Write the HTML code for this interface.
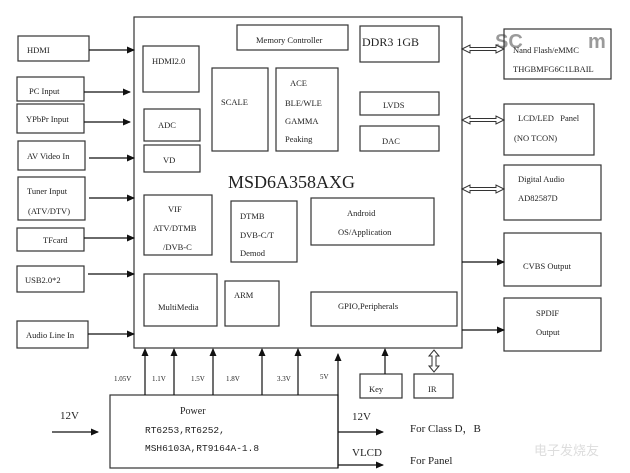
<!DOCTYPE html>
<html><head><meta charset="utf-8"><style>
html,body{margin:0;padding:0;background:#fff;}
svg{display:block;}
text{font-family:"Liberation Serif","Noto Serif CJK SC",serif;fill:#222;}
</style></head><body>
<svg width="630" height="473" viewBox="0 0 630 473" xmlns="http://www.w3.org/2000/svg">
<defs>
<marker id="a" markerWidth="8" markerHeight="8" refX="7" refY="4" orient="auto" markerUnits="userSpaceOnUse"><path d="M0,0.5 L8,4 L0,7.5 Z" fill="#111"/></marker>
</defs>
<text x="495" y="48" font-size="20" font-weight="bold" style="fill:#9a9a9a;font-family:'Liberation Sans',sans-serif">SC</text>
<text x="588" y="48" font-size="20" font-weight="bold" style="fill:#9a9a9a;font-family:'Liberation Sans',sans-serif">m</text>
<g fill="none" stroke="#333" stroke-width="1.2">
<rect x="134" y="17" width="328" height="331"/>
<rect x="18" y="36" width="71" height="25"/>
<rect x="17" y="77" width="67" height="24"/>
<rect x="17" y="104" width="67" height="29"/>
<rect x="18" y="141" width="67" height="29"/>
<rect x="18" y="177" width="67" height="43"/>
<rect x="17" y="228" width="67" height="23"/>
<rect x="17" y="266" width="67" height="26"/>
<rect x="17" y="321" width="71" height="27"/>
<rect x="143" y="46" width="56" height="46"/>
<rect x="212" y="68" width="56" height="83"/>
<rect x="276" y="68" width="62" height="83"/>
<rect x="237" y="25" width="111" height="25"/>
<rect x="360" y="26" width="79" height="36"/>
<rect x="360" y="92" width="79" height="23"/>
<rect x="360" y="126" width="79" height="25"/>
<rect x="144" y="109" width="56" height="32"/>
<rect x="144" y="145" width="56" height="27"/>
<rect x="144" y="195" width="68" height="60"/>
<rect x="231" y="201" width="66" height="61"/>
<rect x="311" y="198" width="123" height="47"/>
<rect x="144" y="274" width="73" height="52"/>
<rect x="225" y="281" width="54" height="45"/>
<rect x="311" y="292" width="146" height="34"/>
<rect x="504" y="29" width="107" height="50"/>
<rect x="504" y="104" width="90" height="51"/>
<rect x="504" y="165" width="97" height="55"/>
<rect x="504" y="233" width="97" height="53"/>
<rect x="504" y="298" width="97" height="53"/>
<rect x="110" y="395" width="228" height="73"/>
<rect x="360" y="374" width="42" height="24"/>
<rect x="414" y="374" width="39" height="24"/>
</g>
<g stroke="#111" stroke-width="1.2" marker-end="url(#a)">
<line x1="89" y1="50" x2="134" y2="50"/>
<line x1="84" y1="92" x2="130" y2="92"/>
<line x1="84" y1="122" x2="130" y2="122"/>
<line x1="89" y1="158" x2="134" y2="158"/>
<line x1="89" y1="198" x2="134" y2="198"/>
<line x1="84" y1="238" x2="134" y2="238"/>
<line x1="88" y1="274" x2="134" y2="274"/>
<line x1="88" y1="334" x2="134" y2="334"/>
<line x1="462" y1="262" x2="504" y2="262"/>
<line x1="462" y1="330" x2="504" y2="330"/>
<line x1="145" y1="395" x2="145" y2="349"/>
<line x1="174" y1="395" x2="174" y2="349"/>
<line x1="213" y1="395" x2="213" y2="349"/>
<line x1="262" y1="395" x2="262" y2="349"/>
<line x1="298" y1="395" x2="298" y2="349"/>
<line x1="338" y1="468" x2="338" y2="354"/>
<line x1="385" y1="374" x2="385" y2="349"/>
<line x1="52" y1="432" x2="98" y2="432"/>
<line x1="338" y1="432" x2="383" y2="432"/>
<line x1="338" y1="465" x2="383" y2="465"/>
</g>
<g fill="#fff" stroke="#333" stroke-width="1">
<path d="M462,49 L470,45 L470,47.5 L496,47.5 L496,45 L504,49 L496,53 L496,50.5 L470,50.5 L470,53 Z"/>
<path d="M462,120 L470,116 L470,118.5 L496,118.5 L496,116 L504,120 L496,124 L496,121.5 L470,121.5 L470,124 Z"/>
<path d="M462,189 L470,185 L470,187.5 L496,187.5 L496,185 L504,189 L496,193 L496,190.5 L470,190.5 L470,193 Z"/>
<path d="M434,350 L439,356 L436,356 L436,366 L439,366 L434,372 L429,366 L432,366 L432,356 L429,356 Z"/>
</g>
<g font-size="8.5">
<text x="27" y="53">HDMI</text>
<text x="29" y="94">PC Input</text>
<text x="26" y="122">YPbPr Input</text>
<text x="27" y="159">AV Video In</text>
<text x="27" y="194">Tuner Input</text>
<text x="28" y="214">(ATV/DTV)</text>
<text x="43" y="243">TFcard</text>
<text x="25" y="283">USB2.0*2</text>
<text x="26" y="338">Audio Line In</text>
<text x="152" y="64">HDMI2.0</text>
<text x="221" y="105">SCALE</text>
<text x="290" y="86">ACE</text>
<text x="285" y="106">BLE/WLE</text>
<text x="285" y="124">GAMMA</text>
<text x="285" y="142">Peaking</text>
<text x="256" y="43">Memory Controller</text>
<text x="383" y="108">LVDS</text>
<text x="382" y="144">DAC</text>
<text x="158" y="128">ADC</text>
<text x="163" y="163">VD</text>
<text x="168" y="212">VIF</text>
<text x="153" y="231">ATV/DTMB</text>
<text x="163" y="250">/DVB-C</text>
<text x="240" y="219">DTMB</text>
<text x="240" y="238">DVB-C/T</text>
<text x="240" y="256">Demod</text>
<text x="347" y="216">Android</text>
<text x="338" y="235">OS/Application</text>
<text x="158" y="310">MultiMedia</text>
<text x="234" y="298">ARM</text>
<text x="338" y="309">GPIO,Peripherals</text>
<text x="513" y="53">Nand Flash/eMMC</text>
<text x="513" y="72">THGBMFG6C1LBAIL</text>
<text x="518" y="121">LCD/LED&#160;&#160;&#160;Panel</text>
<text x="514" y="141">(NO TCON)</text>
<text x="518" y="182">Digital Audio</text>
<text x="518" y="201">AD82587D</text>
<text x="523" y="269">CVBS Output</text>
<text x="536" y="316">SPDIF</text>
<text x="536" y="335">Output</text>
<text x="369" y="392">Key</text>
<text x="428" y="392">IR</text>
</g>
<g font-size="7">
<text x="114" y="381">1.05V</text>
<text x="152" y="381">1.1V</text>
<text x="191" y="381">1.5V</text>
<text x="226" y="381">1.8V</text>
<text x="277" y="381">3.3V</text>
<text x="320" y="379">5V</text>
</g>
<text x="228" y="188" font-size="18">MSD6A358AXG</text>
<text x="362" y="46" font-size="12">DDR3 1GB</text>
<text x="180" y="414" font-size="10">Power</text>
<g font-size="9.5">
<text x="145" y="433" style="font-family:'Liberation Mono',monospace">RT6253,RT6252,</text>
<text x="145" y="451" style="font-family:'Liberation Mono',monospace">MSH6103A,RT9164A-1.8</text>
</g>
<g font-size="11">
<text x="60" y="419">12V</text>
<text x="352" y="420">12V</text>
<text x="352" y="456">VLCD</text>
<text x="410" y="432">For Class D，B</text>
<text x="410" y="464">For Panel</text>
</g>
<text x="534" y="455" font-size="13" style="fill:#ddd;font-family:'Noto Sans CJK SC',sans-serif">电子发烧友</text>
</svg>
</body></html>
